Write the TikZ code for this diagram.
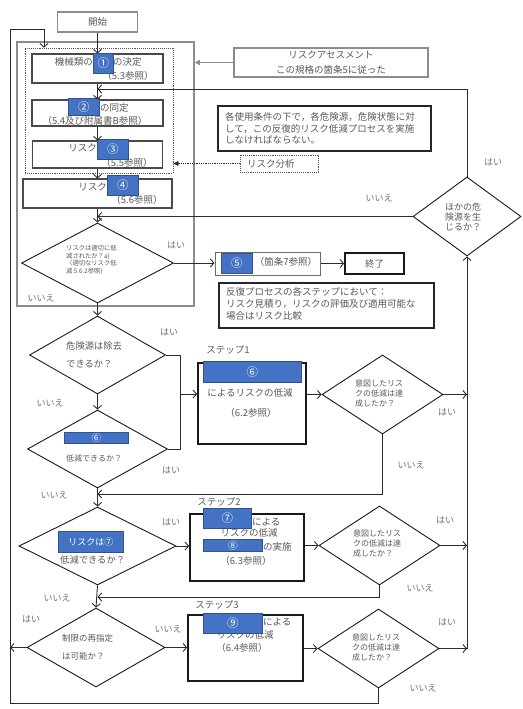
\documentclass[tikz,border=0pt]{standalone}
\usepackage{fontspec}
\setmainfont{Noto Sans CJK JP}
\usetikzlibrary{arrows.meta,shapes.geometric}
\definecolor{txtc}{HTML}{595959}
\definecolor{blu}{HTML}{4472C4}
\definecolor{bluedge}{HTML}{2F528F}
\definecolor{gry}{HTML}{8C8C8C}
\definecolor{linec}{HTML}{2B2B2B}
\definecolor{boxc}{HTML}{4A4A4A}
\newcommand\myfs[2]{\fontsize{#1}{#2}\selectfont}
\begin{document}
\begin{tikzpicture}[x=1pt,y=-1pt,
  ln/.style={draw=linec, line width=0.9pt},
  arr/.style={ln, -{Straight Barb[length=3.5pt,width=8pt]}},
  sz/.style 2 args={minimum width=#1pt, minimum height=#2pt},
  bx/.style={rectangle, draw=#1, line width=1.1pt, inner sep=0pt},
  bx/.default=boxc,
  thk/.style={rectangle, draw=black!90, line width=1.8pt, inner sep=0pt},
  dia/.style={diamond, draw=black!90, line width=0.9pt, inner sep=0pt},
  tx/.style={text=txtc, inner sep=0pt, font=\myfs{9.5}{11}},
  blb/.style={rectangle, fill=blu, draw=bluedge, line width=0.6pt, text=white, inner sep=0pt, font=\myfs{11.5}{12}},
  yn/.style={text=txtc!85, inner sep=0pt, font=\myfs{9}{10}}
]
\fill[white] (0,0) rectangle (522,709);
\useasboundingbox (0,0) rectangle (522,709);

% ---------- outer boxes ----------
\node[bx=gry, line width=1.5pt, sz={177}{264}] (gbox) at (105.5,174) {};
\node[rectangle, draw=linec!80, densely dotted, line width=0.9pt, sz={148}{125}, inner sep=0pt] (dot) at (99,110.5) {};

% ---------- start ----------
\node[bx=gry, sz={80}{20}, tx] (start) at (97.5,22) {開始};

% ---------- box 1 ----------
\node[bx, sz={131}{29}] (b1) at (97.5,68.5) {};
\node[tx, anchor=east] (b1a) at (93,62) {機械類の};
\node[tx, anchor=west] (b1c) at (113,62) {の決定};
\node[tx] (b1d) at (128,76) {（5.3参照）};
\node[blb, anchor=north west, sz={20}{20}] (n1) at (93,53) {①};

% ---------- box 2 ----------
\node[bx, sz={131}{26}] (b2) at (97.5,113) {};
\node[tx, anchor=west] (b2a) at (100,108) {の同定};
\node[tx] (b2b) at (95,121) {（5.4及び附属書B参照）};
\node[blb, anchor=north west, sz={31}{17}] (n2) at (68,98) {②};

% ---------- box 3 ----------
\node[bx, sz={130}{27}] (b3) at (97.5,154.5) {};
\node[tx, anchor=east] (b3a) at (97,148) {リスク};
\node[tx] (b3b) at (127,163) {（5.5参照）};
\node[blb, anchor=north west, sz={31}{20}] (n3) at (97,139) {③};

% ---------- box 4 ----------
\node[bx, sz={149}{29}] (b4) at (97.5,193.5) {};
\node[tx, anchor=east] (b4a) at (107,187) {リスク};
\node[tx] (b4b) at (137,200) {（5.6参照）};
\node[blb, anchor=north west, sz={31}{20}] (n4) at (107,175) {④};

% ---------- right side boxes ----------
\node[bx=gry, sz={194}{29}, tx, align=center, font=\myfs{9.5}{15}] (ra) at (331,62.5) {リスクアセスメント\\この規格の箇条5に従った};
\node[bx=black!85, sz={213}{45}] (note1) at (324.5,128.5) {};
\node[tx, anchor=west, align=left, font=\myfs{9.5}{11.5}] (note1t) at (225,128.5) {各使用条件の下で，各危険源，危険状態に対\\して，この反復的リスク低減プロセスを実施\\しなければならない。};
\node[rectangle, draw=linec!80, densely dotted, line width=0.9pt, sz={78}{17}, inner sep=0pt] (rb) at (279,163.5) {};
\node[tx, anchor=west] (rbt) at (247,163.5) {リスク分析};

% ---------- decision R ----------
\node[dia, sz={152}{80}] (R) at (97.5,263) {};
\node[tx, anchor=west, align=left, font=\myfs{6.3}{7.7}] (Rt) at (66,260) {リスクは適切に低\\減されたか？a)\\（適切なリスク低\\減 5.6.2参照)};

\node[bx=boxc!80, line width=1pt, sz={105}{23}] (b5) at (267.5,263.5) {};
\node[tx] (b5t) at (286,262) {（箇条7参照）};
\node[blb, anchor=north west, sz={31}{20}] (n5) at (221,253) {⑤};
\node[thk, sz={59}{21}, tx] (end) at (374.5,263.5) {終了};

\node[bx=black!85, sz={215}{45}] (note2) at (326.5,305.5) {};
\node[tx, anchor=west, align=left, font=\myfs{9.5}{12}] (note2t) at (226,304) {反復プロセスの各ステップにおいて：\\リスク見積り，リスクの評価及び適用可能な\\場合はリスク比較};

% ---------- decision H ----------
\node[dia, sz={108}{79}] (H) at (467,216.5) {};
\node[tx, anchor=west, align=left, font=\myfs{9}{10}] (Ht) at (445,217) {ほかの危\\険源を生\\じるか？};

% ---------- decisions left column ----------
\node[dia, sz={136}{78}] (D1) at (97.5,355) {};
\node[tx, anchor=west, align=left, font=\myfs{9.3}{18}] (D1t) at (66,355) {危険源は除去\\できるか？};

\node[dia, sz={140}{78}] (D2) at (97.5,449) {};
\node[blb, anchor=north west, sz={64}{11}, font=\myfs{9.5}{10}] (n6b) at (64,432) {⑥};
\node[tx, anchor=west, font=\myfs{8}{9}] (D2t) at (66,458) {低減できるか？};

\node[dia, sz={157}{78}] (D3) at (97.5,546) {};
\node[blb, anchor=north west, sz={65}{21}, font=\myfs{9}{10}] (n7b) at (58,531) {リスクは⑦};
\node[tx, anchor=west, font=\myfs{9.3}{10}] (D3t) at (60,560) {低減できるか？};

\node[dia, sz={138}{79}] (D4) at (96,647.5) {};
\node[tx, anchor=west, align=left, font=\myfs{8.5}{18}] (D4t) at (62,647) {制限の再指定\\は可能か？};

% ---------- step boxes ----------
\node[tx] (st1) at (228,350) {ステップ1};
\node[thk, sz={108}{81}] (s1) at (252,403.5) {};
\node[tx] (s1a) at (250,393) {によるリスクの低減};
\node[tx] (s1b) at (251,413) {（6.2参照）};
\node[blb, anchor=north west, sz={98}{21}] (n6) at (203,361) {⑥};

\node[tx] (st2) at (219,502) {ステップ2};
\node[thk, sz={114}{67}] (s2) at (247,547.5) {};
\node[tx, anchor=west] (s2a) at (252,522) {による};
\node[tx] (s2b) at (249,533) {リスクの低減};
\node[tx, anchor=west] (s2c) at (263,547) {の実施};
\node[tx] (s2d) at (246,561) {（6.3参照）};
\node[blb, anchor=north west, sz={48}{20}] (n7) at (203,508) {⑦};
\node[blb, anchor=north west, sz={59}{12}, font=\myfs{10}{10}] (n8) at (203,539) {⑧};

\node[tx] (st3) at (217,605) {ステップ3};
\node[thk, sz={115}{66}] (s3) at (245.5,648) {};
\node[tx, anchor=west] (s3a) at (263,622) {による};
\node[tx] (s3b) at (245,635) {リスクの低減};
\node[tx] (s3c) at (242,648) {（6.4参照）};
\node[blb, anchor=north west, sz={59}{20}] (n9) at (203,613) {⑨};

% ---------- check diamonds ----------
\node[dia, sz={121}{79}] (A1) at (382.5,394.5) {};
\node[tx, anchor=west, align=left, font=\myfs{8}{10}] (A1t) at (355,393) {意図したリス\\クの低減は達\\成したか？};
\node[dia, sz={121}{79}] (A2) at (379.5,545.5) {};
\node[tx, anchor=west, align=left, font=\myfs{8}{10}] (A2t) at (353,543) {意図したリス\\クの低減は達\\成したか？};
\node[dia, sz={121}{79}] (A3) at (378.5,648.5) {};
\node[tx, anchor=west, align=left, font=\myfs{8}{10}] (A3t) at (352,647) {意図したリス\\クの低減は達\\成したか？};

% ---------- coordinates ----------
\coordinate (j1) at (97.5,89);
\coordinate (j2) at (97.5,216.5);
\coordinate (k2) at (180,449);
\coordinate (k3) at (180,394);
\coordinate (j4) at (97.5,494);
\coordinate (j5) at (97.5,597);
\coordinate (lw) at (10,647.5);
\coordinate (lb) at (10,703);
\coordinate (lt) at (44,29);
\coordinate (r1) at (H.south |- A1.east);
\coordinate (r2) at (H.south |- A2.east);
\coordinate (r3) at (H.south |- A3.east);

% ---------- connectors ----------
\draw[arr] (start) -- (b1);
\draw[arr] (b1) -- (b2);
\draw[arr] (b2) -- (b3);
\draw[arr] (b3) -- (b4);
\draw[arr] (b4) -- (R);
\draw[arr] (H.north) |- (j1);
\draw[arr] (H.west) -- (j2);
\draw[draw=gry, line width=1.2pt, -{Triangle[length=5pt,width=5pt]}] (ra.west) -- (ra.west -| gbox.east);
\draw[draw=linec, densely dotted, line width=0.8pt, -{Triangle[length=5pt,width=5pt]}] (rb.west) -- (rb.west -| dot.east);

\draw[arr] (R.east) -- (R.east -| b5.west);
\draw[arr] (b5.east) -- (b5.east -| end.west);
\draw[arr] (R.south) -- (D1.north);

\draw[arr] (D1.south) -- (D2.north);
\draw[ln] (D1.east) -| (k2) -- (D2.east);
\draw[arr] (k3) -- (k3 -| s1.west);
\draw[arr] (s1.east |- A1.west) -- (A1.west);
\draw[arr] (A1.east) -- (r1);
\draw[arr] (A1.south) |- (j4);

\draw[arr] (D2.south) -- (D3.north);
\draw[arr] (D3.east) -- (D3.east -| s2.west);
\draw[arr] (s2.east |- A2.west) -- (A2.west);
\draw[arr] (A2.east) -- (r2);
\draw[arr] (A2.south) |- (j5);

\draw[arr] (D3.south) -- (D4.north);
\draw[arr] (D4.west) -- (lw);
\draw[arr] (D4.east) -- (D4.east -| s3.west);
\draw[arr] (s3.east |- A3.west) -- (A3.west);
\draw[arr] (A3.east) -- (r3);
\draw[arr] (r3) -- (H.south);
\draw[arr] (A3.south) |- (lb) |- (lt) -- (lt |- dot.north);

% ---------- yes / no labels ----------
\node[yn] (yR) at (176,245) {はい};
\node[yn] (nR) at (41,298) {いいえ};
\node[yn] (yH) at (493,162) {はい};
\node[yn] (nH) at (379,198) {いいえ};
\node[yn] (y1) at (169,332) {はい};
\node[yn] (n1l) at (50,403) {いいえ};
\node[yn] (y2) at (171,470) {はい};
\node[yn] (n2l) at (54,495) {いいえ};
\node[yn] (yA1) at (447,412) {はい};
\node[yn] (nA1) at (411,465) {いいえ};
\node[yn] (y3) at (171,522) {はい};
\node[yn] (n3l) at (57,598) {いいえ};
\node[yn] (yA2) at (445,520) {はい};
\node[yn] (nA2) at (420,588) {いいえ};
\node[yn] (y4) at (31,619) {はい};
\node[yn] (n4l) at (168,629) {いいえ};
\node[yn] (yA3) at (447,622) {はい};
\node[yn] (nA3) at (423,688) {いいえ};
\end{tikzpicture}
\end{document}
